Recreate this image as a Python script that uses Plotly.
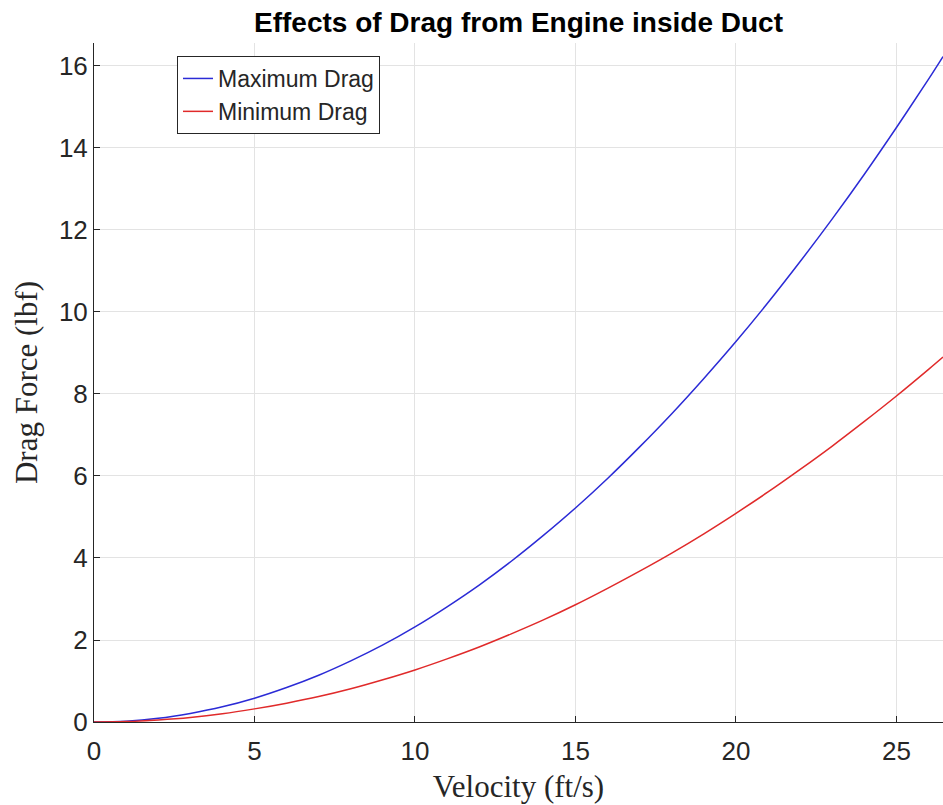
import plotly.graph_objects as go

velocity = [0, 1, 2, 3, 4, 5, 6, 7, 8, 9, 10, 11, 12, 13, 14, 15, 16, 17, 18, 19, 20,
            21, 22, 23, 24, 25, 26, 26.45]
max_drag = [0, 0.02, 0.09, 0.21, 0.37, 0.58, 0.84, 1.14, 1.49, 1.88, 2.32, 2.81, 3.34,
            3.92, 4.55, 5.22, 5.94, 6.71, 7.52, 8.38, 9.28, 10.23, 11.23, 12.27, 13.36,
            14.50, 15.68, 16.23]
min_drag = [0, 0.01, 0.05, 0.11, 0.20, 0.32, 0.46, 0.62, 0.81, 1.03, 1.27, 1.54, 1.83,
            2.15, 2.49, 2.86, 3.26, 3.68, 4.12, 4.59, 5.09, 5.61, 6.16, 6.73, 7.33,
            7.95, 8.60, 8.90]
x_ticks = [0, 5, 10, 15, 20, 25]
y_ticks = [0, 2, 4, 6, 8, 10, 12, 14, 16]

fig = go.Figure()
fig.add_trace(go.Scatter(x=velocity, y=max_drag, mode="lines", name="Maximum Drag",
                         line=dict(color="#2b2bd6", width=1.5, shape="spline")))
fig.add_trace(go.Scatter(x=velocity, y=min_drag, mode="lines", name="Minimum Drag",
                         line=dict(color="#e02a2a", width=1.5, shape="spline")))

axis_common = dict(
    showgrid=True, gridcolor="#e3e3e3", gridwidth=1,
    showline=True, linecolor="#262626", linewidth=1,
    ticks="inside", ticklen=6, tickcolor="#262626",
    tickfont=dict(family="Liberation Sans, Arial", size=26, color="#262626"),
    zeroline=False, mirror=False, automargin=False,
)
serif = dict(family="Liberation Serif, Times New Roman", size=31, color="#262626")

fig.update_layout(
    width=943, height=805,
    margin=dict(l=94, r=0, t=43, b=83),
    paper_bgcolor="white", plot_bgcolor="white",
    title=dict(text="<b>Effects of Drag from Engine inside Duct</b>",
               font=dict(family="Liberation Sans, Arial", size=28, color="black"),
               x=0.5, xanchor="center", xref="paper",
               y=1 - 22 / 805, yanchor="middle", yref="container"),
    xaxis=dict(range=[0, 26.45], tickvals=x_ticks, ticklabelstandoff=6,
               title=dict(text="Velocity (ft/s)", standoff=10, font=serif),
               **axis_common),
    yaxis=dict(range=[0, 16.56], tickvals=y_ticks,
               title=dict(text="Drag Force (lbf)", standoff=12, font=serif),
               **axis_common),
    legend=dict(x=(177 - 94) / 849, y=(722 - 56) / 679, xanchor="left", yanchor="top",
                bgcolor="white", bordercolor="#262626", borderwidth=1,
                font=dict(family="Liberation Sans, Arial", size=23, color="#262626"),
                tracegroupgap=0),
    showlegend=True,
)

fig.write_html("out.html")
